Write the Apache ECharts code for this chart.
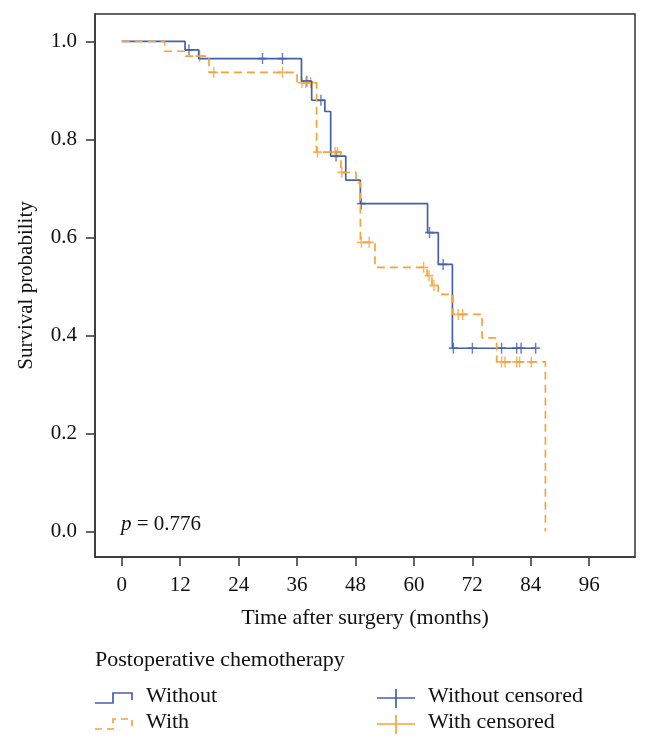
<!DOCTYPE html>
<html>
<head>
<meta charset="utf-8">
<script src="https://cdn.jsdelivr.net/npm/echarts@6/dist/echarts.min.js"></script>
<style>
  html, body { margin: 0; padding: 0; background: #fff; }
  #main { width: 650px; height: 749px; }
</style>
</head>
<body>
<div id="main"></div>
<script>
// Kaplan-Meier steps
const withoutTime = [0, 13, 15.8, 36.9, 39, 41.7, 42.9, 46, 49, 62.8, 65, 67.9, 85];
const withoutSurv = [1.0, 0.983, 0.965, 0.919, 0.880, 0.857, 0.766, 0.717, 0.669, 0.610, 0.545, 0.374, 0.374];
const withoutCensorTime = [13.8, 28.9, 33, 38, 40.9, 44, 49.2, 63.2, 66, 68.1, 72, 78, 81.1, 82, 85];
const withoutCensorSurv = [0.983, 0.965, 0.965, 0.919, 0.880, 0.766, 0.669, 0.610, 0.545, 0.374, 0.374, 0.374, 0.374, 0.374, 0.374];

const withTime = [0, 8.8, 13.1, 17.9, 36, 40, 45, 48.1, 49, 52, 62.7, 63.7, 65, 68, 74, 77, 87];
const withSurv = [1.0, 0.980, 0.970, 0.937, 0.916, 0.774, 0.733, 0.712, 0.590, 0.539, 0.522, 0.502, 0.484, 0.443, 0.395, 0.346, 0];
const withCensorTime = [16, 18.9, 33, 37, 37.8, 38.8, 40.2, 43.8, 44.3, 45.2, 49.2, 50.8, 62, 63.1, 64.1, 69.1, 70, 78, 78.7, 81.1, 81.7, 84.1];
const withCensorSurv = [0.970, 0.937, 0.937, 0.916, 0.916, 0.916, 0.774, 0.774, 0.774, 0.733, 0.590, 0.590, 0.539, 0.522, 0.502, 0.443, 0.443, 0.346, 0.346, 0.346, 0.346, 0.346];

const xTicks = [0, 12, 24, 36, 48, 60, 72, 84, 96];
const yTicks = [0, 0.2, 0.4, 0.6, 0.8, 1.0];

const pValue = '0.776';

const BLUE = '#4460ab';
const ORANGE = '#f5a33a';
const FONT = 'Liberation Serif';
const plus = 'path://M0,4.2H10V5.8H0Z M4.2,0H5.8V10H4.2Z';

function zip(a, b) { return a.map((v, i) => [v, b[i]]); }

var myChart = echarts.init(document.getElementById('main'));

var option = {
  animation: false,
  grid: {
    left: 95, top: 14, right: 15, bottom: 192,
    show: true, borderColor: '#333', borderWidth: 1.5, backgroundColor: 'transparent'
  },
  xAxis: {
    type: 'value', min: -5.5, max: 105.4,
    name: 'Time after surgery (months)', nameLocation: 'middle', nameGap: 50,
    nameTextStyle: { fontFamily: FONT, fontSize: 22, color: '#111' },
    axisLine: { show: true, onZero: false, lineStyle: { color: '#333', width: 1.5 } },
    axisTick: { show: true, length: 9, customValues: xTicks, lineStyle: { color: '#333', width: 1.5 } },
    axisLabel: { customValues: xTicks, margin: 18, fontFamily: FONT, fontSize: 21, color: '#111' },
    splitLine: { show: false }
  },
  yAxis: {
    type: 'value', min: -0.052, max: 1.056,
    name: 'Survival probability', nameLocation: 'middle', nameGap: 58,
    nameTextStyle: { fontFamily: FONT, fontSize: 21, color: '#111' },
    axisLine: { show: true, onZero: false, lineStyle: { color: '#333', width: 1.5 } },
    axisTick: { show: true, length: 9, customValues: yTicks, lineStyle: { color: '#333', width: 1.5 } },
    axisLabel: { customValues: yTicks, margin: 18, fontFamily: FONT, fontSize: 21, color: '#111',
      formatter: v => v.toFixed(1) },
    splitLine: { show: false }
  },
  series: [
    {
      name: 'Without', type: 'line', step: 'end', symbol: 'none',
      data: zip(withoutTime, withoutSurv),
      lineStyle: { color: BLUE, width: 1.7 }
    },
    {
      name: 'With', type: 'line', step: 'end', symbol: 'none',
      data: zip(withTime, withSurv),
      lineStyle: { color: ORANGE, width: 1.7, type: [8, 5] }
    },
    {
      name: 'Without censored', type: 'scatter', symbol: plus, symbolSize: [9, 11],
      data: zip(withoutCensorTime, withoutCensorSurv),
      itemStyle: { color: BLUE }
    },
    {
      name: 'With censored', type: 'scatter', symbol: plus, symbolSize: [9, 11],
      data: zip(withCensorTime, withCensorSurv),
      itemStyle: { color: ORANGE }
    }
  ],
  graphic: [
    // p value
    { type: 'text', left: 121, top: 514, style: {
      text: '{i|p} = ' + pValue, fontFamily: FONT, fontSize: 21, fill: '#111',
      rich: { i: { fontStyle: 'italic', fontFamily: FONT, fontSize: 21, fill: '#111' } } } },
    // legend
    { type: 'text', left: 95, top: 649, style: { text: 'Postoperative chemotherapy', fontFamily: FONT, fontSize: 22, fill: '#111' } },
    { type: 'polyline', shape: { points: [[95, 703], [113, 703], [113, 693], [132, 693], [132, 700]] },
      style: { stroke: BLUE, lineWidth: 1.7, fill: null } },
    { type: 'polyline', shape: { points: [[95, 729], [113, 729], [113, 719], [132, 719], [132, 726]] },
      style: { stroke: ORANGE, lineWidth: 1.7, fill: null, lineDash: [7, 5] } },
    { type: 'text', left: 146, top: 685, style: { text: 'Without', fontFamily: FONT, fontSize: 22, fill: '#111' } },
    { type: 'text', left: 146, top: 711, style: { text: 'With', fontFamily: FONT, fontSize: 22, fill: '#111' } },
    { type: 'line', shape: { x1: 377, y1: 698, x2: 415, y2: 698 }, style: { stroke: BLUE, lineWidth: 1.7 } },
    { type: 'line', shape: { x1: 396, y1: 689, x2: 396, y2: 708 }, style: { stroke: BLUE, lineWidth: 1.7 } },
    { type: 'line', shape: { x1: 377, y1: 724, x2: 415, y2: 724 }, style: { stroke: ORANGE, lineWidth: 1.7 } },
    { type: 'line', shape: { x1: 396, y1: 715, x2: 396, y2: 734 }, style: { stroke: ORANGE, lineWidth: 1.7 } },
    { type: 'text', left: 428, top: 685, style: { text: 'Without censored', fontFamily: FONT, fontSize: 22, fill: '#111' } },
    { type: 'text', left: 428, top: 711, style: { text: 'With censored', fontFamily: FONT, fontSize: 22, fill: '#111' } }
  ]
};

myChart.setOption(option);
</script>
</body>
</html>
